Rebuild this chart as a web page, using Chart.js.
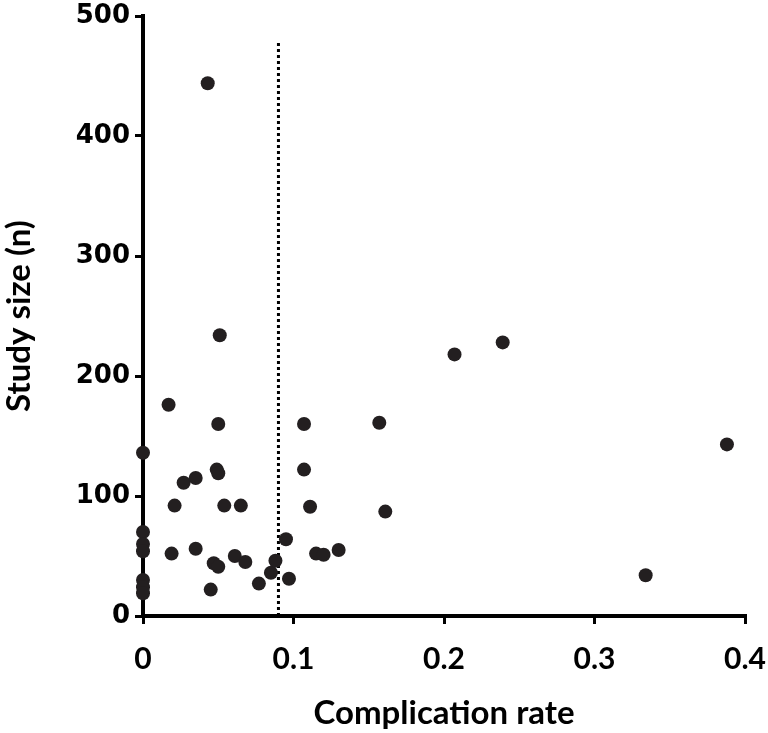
<!DOCTYPE html>
<html>
<head>
<meta charset="utf-8">
<script src="https://cdn.jsdelivr.net/npm/chart.js@4.4.1/dist/chart.umd.min.js"></script>
<style>
  html, body { margin: 0; padding: 0; background: #ffffff; }
  #wrap { width: 768px; height: 733px; position: relative; }
</style>
</head>
<body>
<div id="wrap"><canvas id="c" width="768" height="733"></canvas></div>
<script>
// Complication rate (x) vs study size (y), one entry per study
const complicationRate = [
  0.017, 0.050, 0.107, 0, 0.049, 0.050, 0.107, 0.027, 0.035, 0.021,
  0.054, 0.065, 0.111, 0, 0, 0, 0, 0, 0, 0.019,
  0.035, 0.047, 0.050, 0.045, 0.061, 0.068, 0.077, 0.085, 0.088, 0.095,
  0.097, 0.115, 0.120, 0.130, 0.043, 0.051, 0.207, 0.239, 0.157, 0.388,
  0.161, 0.334
];
const studySize = [
  176, 160, 160, 136, 122, 119, 122, 111, 115, 92,
  92, 92, 91, 70, 60, 54, 30, 24, 19, 52,
  56, 44, 41, 22, 50, 45, 27, 36, 46, 64,
  31, 52, 51, 55, 444, 234, 218, 228, 161, 143,
  87, 34
];
// Reference line (dotted vertical)
const refLineX = [0.09, 0.09];
const refLineY = [0, 480];

const xTickLabels = ['0', '0.1', '0.2', '0.3', '0.4'];
const yTickLabels = ['0', '100', '200', '300', '400', '500'];
const xAxisTitle = 'Complication rate';
const yAxisTitle = 'Study size (n)';

const points = complicationRate.map((x, i) => ({ x: x, y: studySize[i] }));
const refLine = refLineX.map((x, i) => ({ x: x, y: refLineY[i] }));

new Chart(document.getElementById('c'), {
  type: 'scatter',
  data: {
    datasets: [
      {
        type: 'line',
        data: refLine,
        borderColor: '#000000',
        borderWidth: 3,
        borderDash: [3, 3],
        pointRadius: 0,
        fill: false,
        order: 2
      },
      {
        data: points,
        backgroundColor: '#231f20',
        borderColor: '#231f20',
        pointRadius: 7,
        pointHoverRadius: 7,
        borderWidth: 0,
        clip: false,
        order: 1
      }
    ]
  },
  options: {
    responsive: false,
    animation: false,
    events: [],
    layout: { padding: { left: 0, right: 23, top: 16, bottom: 0 } },
    plugins: { legend: { display: false }, tooltip: { enabled: false } },
    scales: {
      x: {
        type: 'linear',
        min: 0,
        max: 0.4,
        afterFit: (s) => { s.height = 117; s.paddingLeft = 0; s.paddingRight = 0; },
        border: { display: true, color: '#000000', width: 4 },
        grid: { display: true, drawOnChartArea: false, drawTicks: true, tickLength: 8, tickColor: '#000000', lineWidth: 3 },
        ticks: {
          stepSize: 0.1,
          padding: 17,
          color: '#000000',
          font: { family: 'Lato', weight: 'bold', size: 30 },
          callback: (v, i) => xTickLabels[i]
        },
        title: {
          display: true,
          text: xAxisTitle,
          color: '#000000',
          font: { family: 'Lato', weight: 'bold', size: 33 },
          padding: { top: 0, bottom: 0 }
        }
      },
      y: {
        type: 'linear',
        min: 0,
        max: 500,
        afterFit: (s) => { s.width = 143; s.paddingTop = 0; s.paddingBottom = 0; },
        border: { display: true, color: '#000000', width: 4 },
        grid: { display: true, drawOnChartArea: false, drawTicks: true, tickLength: 8, tickColor: '#000000', lineWidth: 3 },
        ticks: {
          stepSize: 100,
          padding: 5,
          color: '#000000',
          font: { family: 'DejaVu Sans', weight: 'bold', size: 26 },
          callback: (v, i) => yTickLabels[i]
        },
        title: {
          display: true,
          text: yAxisTitle,
          color: '#000000',
          font: { family: 'Lato', weight: 'bold', size: 33 },
          padding: { top: 0, bottom: 0 }
        }
      }
    }
  }
});
</script>
</body>
</html>
